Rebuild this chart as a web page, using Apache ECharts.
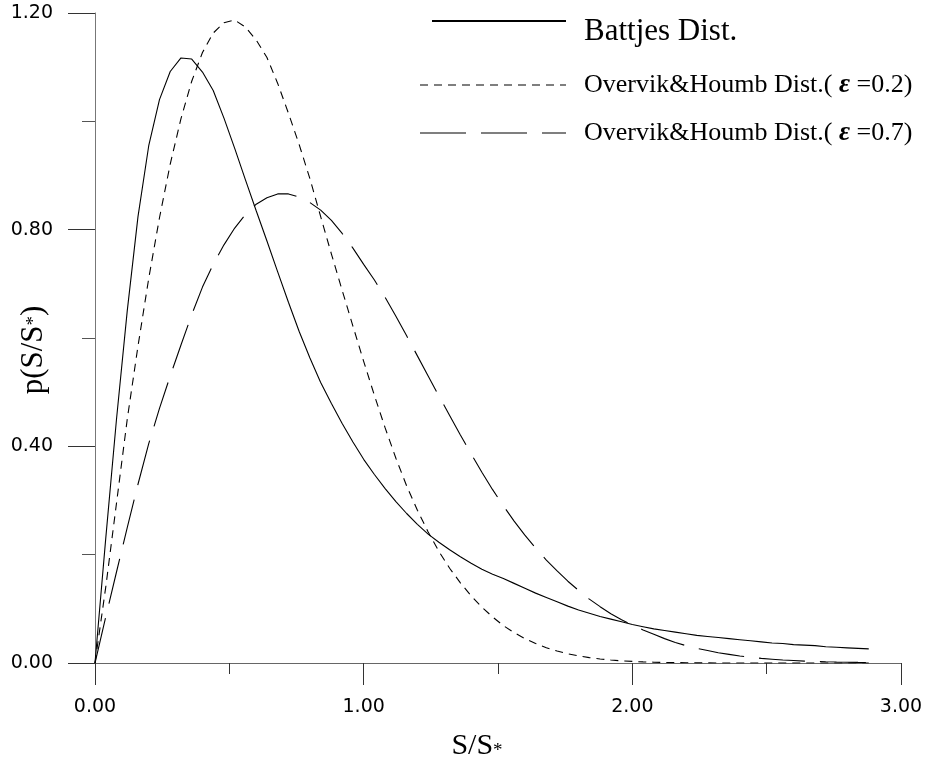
<!DOCTYPE html>
<html>
<head>
<meta charset="utf-8">
<script src="https://cdn.jsdelivr.net/npm/echarts@6/dist/echarts.min.js"></script>
<style>
html,body{margin:0;padding:0;background:#fff;}
#chart{width:928px;height:760px;}
</style>
</head>
<body>
<div id="chart"></div>
<script>
// S/S* sample positions
var xValues = [0.00,0.04,0.08,0.12,0.16,0.20,0.24,0.28,0.32,0.36,0.40,0.44,0.48,0.52,0.56,0.60,0.64,0.68,0.72,0.76,
  0.80,0.84,0.88,0.92,0.96,1.00,1.04,1.08,1.12,1.16,1.20,1.24,1.28,1.32,1.36,1.40,1.44,1.48,1.52,1.56,1.60,1.64,1.68,
  1.72,1.76,1.80,1.84,1.88,1.92,1.96,2.00,2.04,2.08,2.12,2.16,2.20,2.24,2.28,2.32,2.36,2.40,2.44,2.48,2.52,2.56,2.60,
  2.64,2.68,2.72,2.76,2.80,2.84,2.88];

var battjes = [0,0.23,0.45,0.65,0.824,0.955,1.040,1.092,1.117,1.115,1.091,1.057,1.006,0.950,0.892,0.835,0.779,0.722,0.666,0.612,
  0.563,0.518,0.479,0.442,0.408,0.376,
  0.348,0.322,0.298,0.276,0.256,0.238,0.223,0.209,0.196,0.184,0.173,0.164,
  0.156,0.147,0.138,0.129,0.121,0.113,0.105,0.098,0.092,0.086,0.081,0.076,0.071,
  0.067,0.063,0.060,0.057,0.054,0.051,0.049,0.047,0.045,0.043,0.041,0.039,0.037,0.036,0.034,0.033,0.032,0.030,0.029,0.028,0.027,0.026];

var overvik02 = [0,0.14,0.295,0.45,0.585,0.71,0.822,0.921,1.005,1.074,1.127,1.163,1.182,1.187,1.174,1.150,1.118,1.070,1.015,0.957,
  0.894,0.824,0.755,0.688,0.622,0.557,
  0.494,0.434,0.378,0.327,0.282,0.242,0.206,0.175,0.148,0.124,0.103,0.085,
  0.069,0.056,0.045,0.036,0.028,0.022,0.017,0.013,0.010,0.0075,0.0055,0.004,0.003,
  0.002,0.0015,0.001,0.0007,0.0005,0.0003,0.0002,0.0001,0,0,0,0,0,0,0,0,0,0,0,0,0,0];

var overvik07 = [0,0.085,0.168,0.250,0.330,0.405,0.470,0.530,0.587,0.643,0.694,0.736,0.772,0.803,0.828,0.847,0.859,0.866,0.866,0.860,
  0.850,0.836,0.817,0.793,0.766,0.736,
  0.707,0.675,0.640,0.604,0.567,0.530,0.493,0.457,0.421,0.386,0.352,0.320,
  0.290,0.262,0.236,0.212,0.190,0.170,0.151,0.134,0.118,0.104,0.091,0.080,0.070,
  0.061,0.053,0.045,0.038,0.032,0.027,0.023,0.019,0.016,0.013,0.0105,0.0085,0.007,0.0055,0.0045,0.0035,0.003,0.0024,0.0019,0.0015,0.0012,0.001];

var seriesNames = ['Battjes Dist.', 'Overvik&Houmb Dist.( ε =0.2)', 'Overvik&Houmb Dist.( ε =0.7)'];
var xTickLabels = ['0.00','1.00','2.00','3.00'];
var yTickLabels = ['0.00','0.40','0.80','1.20'];

function pairs(ys){ return xValues.map(function(x,i){ return [x, ys[i]]; }); }

var chart = echarts.init(document.getElementById('chart'), null, {renderer:'canvas'});
var tickFont = 'DejaVu Sans';
var serif = 'Liberation Serif';

var option = {
  animation:false,
  backgroundColor:'#fff',
  grid:{left:95, right:27, top:13, bottom:97, containLabel:false},
  xAxis:{
    type:'value', min:0, max:3, interval:1,
    axisLine:{show:true, onZero:false, lineStyle:{color:'#666', width:1}},
    axisTick:{show:true, length:22, lineStyle:{color:'#333', width:1}},
    minorTick:{show:true, splitNumber:2, length:11, lineStyle:{color:'#333', width:1}},
    splitLine:{show:false},
    axisLabel:{margin:35, formatter:function(v){ var i=Math.round(v); return xTickLabels[i]; }, fontFamily:tickFont, fontSize:19, color:'#000'}
  },
  yAxis:{
    type:'value', min:0, max:1.2, interval:0.4,
    axisLine:{show:true, onZero:false, lineStyle:{color:'#777', width:1}},
    axisTick:{show:true, length:27, lineStyle:{color:'#333', width:1}},
    minorTick:{show:true, splitNumber:2, length:13, lineStyle:{color:'#555', width:1}},
    splitLine:{show:false},
    axisLabel:{margin:42, formatter:function(v){ var i=Math.round(v/0.4); return yTickLabels[i]; }, fontFamily:tickFont, fontSize:19, color:'#000'}
  },
  series:[
    {name:seriesNames[0], type:'line', data:pairs(battjes), showSymbol:false, symbol:'none', smooth:false,
     lineStyle:{color:'#000', width:1.1, type:'solid'}},
    {name:seriesNames[1], type:'line', data:pairs(overvik02), showSymbol:false, symbol:'none', smooth:false,
     lineStyle:{color:'#000', width:1.1, type:[8,6]}},
    {name:seriesNames[2], type:'line', data:pairs(overvik07), showSymbol:false, symbol:'none', smooth:false,
     lineStyle:{color:'#000', width:1.1, type:[46,15]}}
  ],
  graphic:[
    {type:'line', shape:{x1:432,y1:21,x2:566,y2:21}, style:{stroke:'#000', lineWidth:2}},
    {type:'text', x:584, y:32, style:{text:seriesNames[0], fontFamily:serif, fontSize:31, fill:'#000', align:'left', verticalAlign:'middle'}},
    {type:'line', shape:{x1:420,y1:85,x2:566,y2:85}, style:{stroke:'#000', lineWidth:1.1, lineDash:[8,6]}},
    {type:'text', x:584, y:85, style:{text:'Overvik&Houmb Dist.( {e|ε} =0.2)', fontFamily:serif, fontSize:26, fill:'#000', align:'left', verticalAlign:'middle',
      rich:{e:{fontFamily:serif, fontSize:27, fontStyle:'italic', fontWeight:'bold', fill:'#000'}}}},
    {type:'line', shape:{x1:420,y1:133,x2:566,y2:133}, style:{stroke:'#000', lineWidth:1.1, lineDash:[46,15]}},
    {type:'text', x:584, y:133, style:{text:'Overvik&Houmb Dist.( {e|ε} =0.7)', fontFamily:serif, fontSize:26, fill:'#000', align:'left', verticalAlign:'middle',
      rich:{e:{fontFamily:serif, fontSize:27, fontStyle:'italic', fontWeight:'bold', fill:'#000'}}}},
    {type:'text', x:477, y:746, style:{text:'S/S{s|*}', fontFamily:serif, fontSize:30, fill:'#000', align:'center', verticalAlign:'middle',
      rich:{s:{fontFamily:serif, fontSize:19, fill:'#000', verticalAlign:'bottom'}}}},
    {type:'text', x:34, y:350, rotation:Math.PI/2, style:{text:'p(S/S{s|*})', fontFamily:serif, fontSize:31, fill:'#000', align:'center', verticalAlign:'middle',
      rich:{s:{fontFamily:serif, fontSize:19, fill:'#000'}}}}
  ]
};
chart.setOption(option);
</script>
</body>
</html>
